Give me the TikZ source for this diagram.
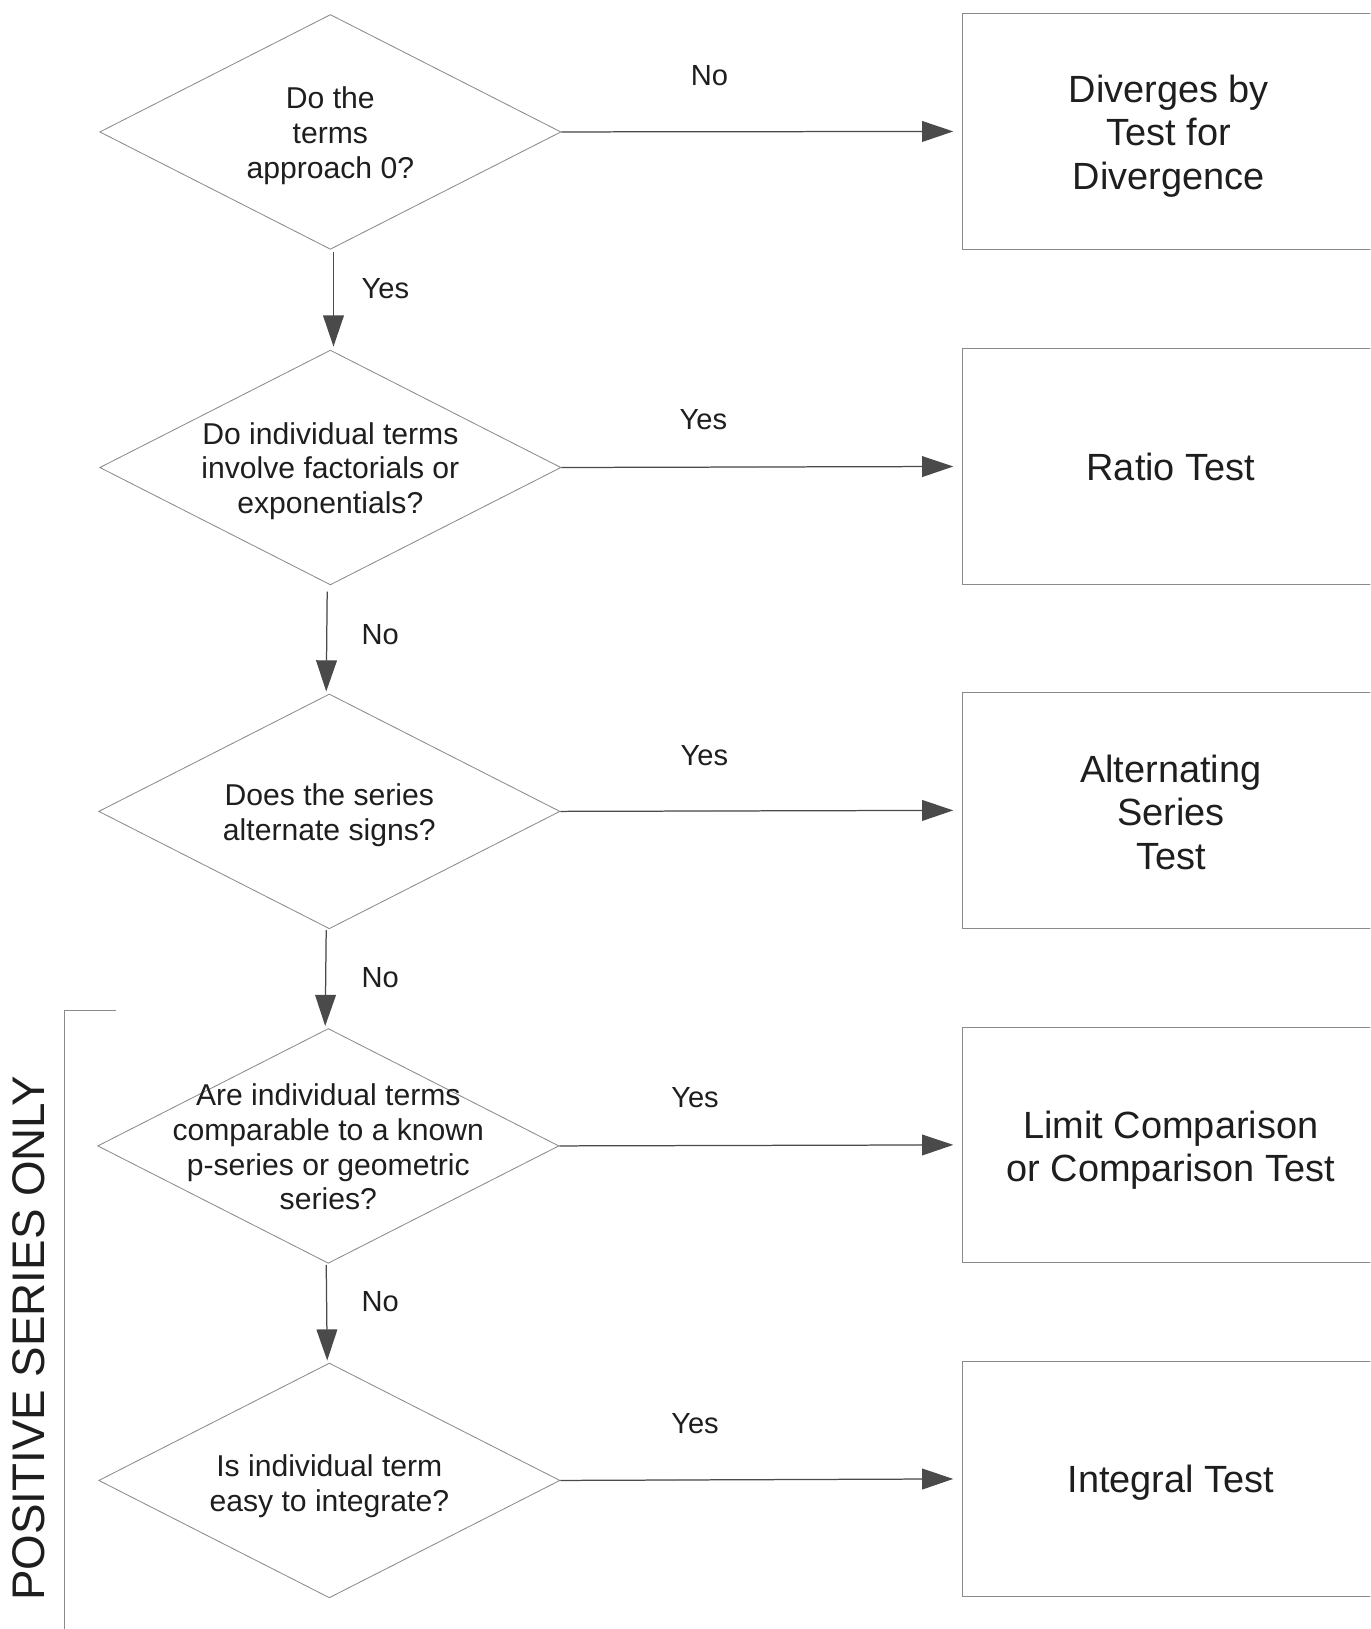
\documentclass[tikz,border=0pt]{standalone}
\usepackage{fontspec}
\setmainfont{Liberation Sans}
\usetikzlibrary{shapes.geometric,arrows.meta}
\definecolor{txt}{HTML}{1E1E1E}
\definecolor{edge}{HTML}{8A8A8A}
\definecolor{arrc}{HTML}{4A4A4A}
\tikzset{
  dshape/.style={diamond,draw=edge,line width=0.8pt,minimum width=444pt,minimum height=226pt,inner sep=0pt},
  dtext/.style={align=center,text=txt,font=\fontsize{29}{33.5}\selectfont,inner sep=0pt},
  rbox/.style={rectangle,draw=edge,line width=0.9pt,minimum width=404pt,minimum height=227pt,inner sep=0pt},
  btext/.style={align=center,text=txt,font=\fontsize{36.5}{42}\selectfont,inner sep=0pt},
  lab/.style={text=txt,font=\fontsize{28}{32}\selectfont,inner sep=0pt},
  arr/.style={draw=arrc,line width=1.2pt,-{Triangle[length=30pt,width=20pt]},fill=arrc},
}
\begin{document}
\begin{tikzpicture}[x=1pt,y=-1pt]
\useasboundingbox (0,0) rectangle (1319,1568);
\clip (0,0) rectangle (1319,1568);
\fill[white] (0,0) rectangle (1319,1568);

% diamonds
\node[dshape] (d1) at (318,127) {};
\node[dshape] (d2) at (318,450) {};
\node[dshape] (d3) at (317,781) {};
\node[dshape] (d4) at (316,1103) {};
\node[dshape] (d5) at (317,1425) {};
\node[dtext] (t1) at ([yshift=-3.5pt]d1.center) {Do the\\terms\\approach 0?};
\node[dtext] (t2) at ([yshift=-3.5pt]d2.center) {Do individual terms\\involve factorials or\\exponentials?};
\node[dtext] (t3) at ([yshift=-4pt]d3.center) {Does the series\\alternate signs?};
\node[dtext] (t4) at ([yshift=-1pt]d4.center) {Are individual terms\\comparable to a known\\p-series or geometric\\series?};
\node[dtext] (t5) at ([yshift=-5.5pt]d5.center) {Is individual term\\easy to integrate?};

% boxes
\node[rbox] (b1) at (1128,126.5) {};
\node[rbox] (b2) at (1128,449) {};
\node[rbox] (b3) at (1128,780) {};
\node[rbox] (b4) at (1128,1102) {};
\node[rbox] (b5) at (1128,1423.5) {};
\node[btext] (bt1) at (1125,131) {Diverges by\\Test for\\Divergence};
\node[btext] (bt2) at (1127,449) {Ratio Test};
\node[btext] (bt3) at (1127,782) {Alternating\\Series\\Test};
\node[btext] (bt4) at (1127,1107) {Limit Comparison\\or Comparison Test};
\node[btext] (bt5) at (1127,1427.5) {Integral Test};

% horizontal arrows
\draw[arr,shorten >=8pt] (d1.east) -- (b1.west);
\draw[arr,shorten >=8pt] (d2.east) -- (b2.west);
\draw[arr,shorten >=8pt] (d3.east) -- (b3.west);
\draw[arr,shorten >=8pt] (d4.east) -- (b4.west);
\draw[arr,shorten >=8pt] (d5.east) -- (b5.west);

% vertical arrows
\draw[arr,shorten <=2pt,shorten >=3pt] ([xshift=3pt]d1.south) -- ([xshift=3pt]d2.north);
\draw[arr,shorten <=6pt,shorten >=2pt] ([xshift=-3pt]d2.south) -- ([xshift=-3pt]d3.north);
\draw[arr,shorten <=1pt,shorten >=2pt] ([xshift=-3pt]d3.south) -- ([xshift=-3pt]d4.north);
\draw[arr,shorten <=1pt,shorten >=2pt] ([xshift=-2pt]d4.south) -- ([xshift=-2pt]d5.north);

% labels
\node[lab] (l1) at (683,73) {No};
\node[lab] (l2) at (371,278) {Yes};
\node[lab] (l3) at (677,404) {Yes};
\node[lab] (l4) at (366,611) {No};
\node[lab] (l5) at (678,727) {Yes};
\node[lab] (l6) at (366,941) {No};
\node[lab] (l7) at (669,1057) {Yes};
\node[lab] (l8) at (366,1253) {No};
\node[lab] (l9) at (669,1370) {Yes};

% bracket
\coordinate (bt) at (62,973);
\coordinate (br) at (112,973);
\coordinate (bb) at (62,1572);
\draw[draw=edge,line width=0.8pt] (br) -- (bt) -- (bb);
\node[rotate=90,text=txt,font=\fontsize{44}{48}\selectfont,inner sep=0pt] (pos) at (28,1288) {POSITIVE SERIES ONLY};
\end{tikzpicture}
\end{document}
